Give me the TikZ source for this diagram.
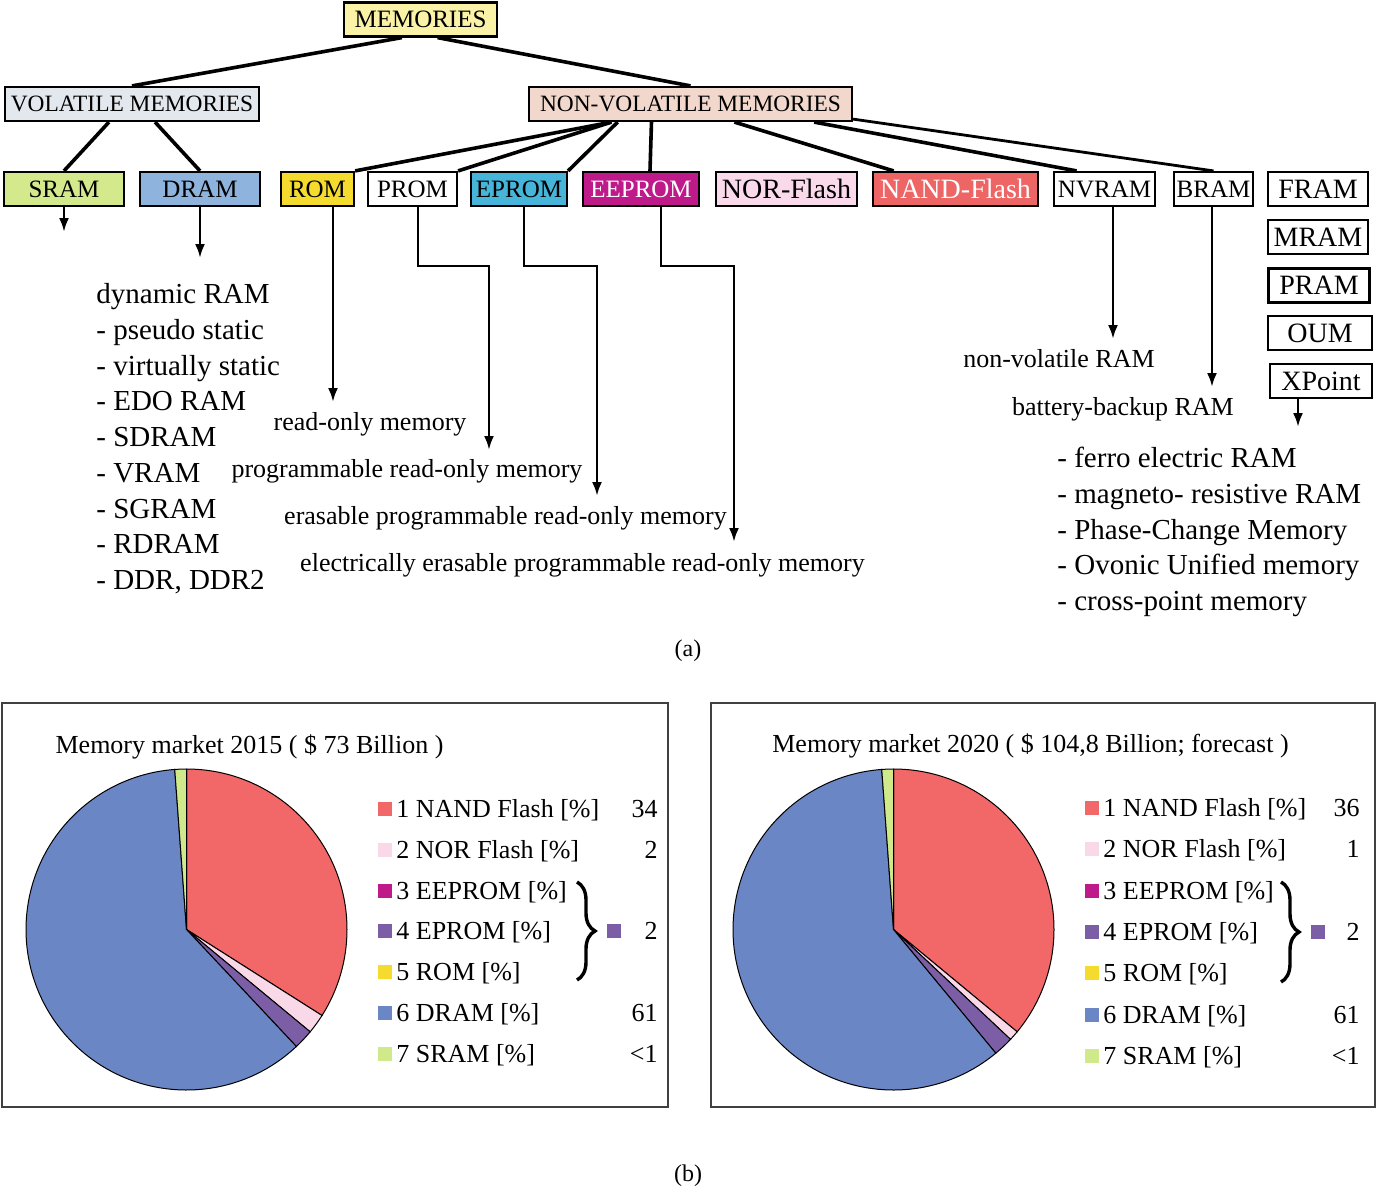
\documentclass[tikz,border=0pt]{standalone}
\usepackage{fontspec}
\setmainfont{Liberation Serif}
\usepackage{xcolor}
\usepackage{tikz}
\usetikzlibrary{calc,arrows.meta,decorations.pathreplacing}

\definecolor{memyellow}{HTML}{F9F2A7}
\definecolor{volgrey}{HTML}{E3E8EE}
\definecolor{nvpeach}{HTML}{F2D8CC}
\definecolor{sramgreen}{HTML}{D3E98C}
\definecolor{dramblue}{HTML}{8EB3DD}
\definecolor{romyellow}{HTML}{F5DB2E}
\definecolor{epromcyan}{HTML}{47B5DA}
\definecolor{eeprommag}{HTML}{BE1A8A}
\definecolor{norpink}{HTML}{F9D9EA}
\definecolor{nandred}{HTML}{EE6565}
\definecolor{pienand}{HTML}{F26767}
\definecolor{pienor}{HTML}{F9D9E8}
\definecolor{pieeprom}{HTML}{7B5EA5}
\definecolor{piedram}{HTML}{6B86C5}
\definecolor{piesram}{HTML}{D0E98A}

\newcommand\memfont{\fontsize{12.5}{14}\selectfont}
\newcommand\longfont{\fontsize{11.7}{14}\selectfont}
\newcommand\bigmemfont{\fontsize{14}{16}\selectfont}
\newcommand\descfont{\fontsize{13}{15}\selectfont}
\newcommand\listfont{\fontsize{14.5}{17}\selectfont}
\newcommand\legfont{\fontsize{13}{15}\selectfont}
\newcommand\captfont{\fontsize{12}{14}\selectfont}

\begin{document}
\begin{tikzpicture}[x=0.5pt,y=-0.5pt,
    membox/.style={draw,line width=1.1pt,minimum height=17pt,inner sep=1pt,font=\memfont},
    tree/.style={line width=1.8pt},
    arr/.style={line width=1.3pt,-{Latex[length=7pt,width=5pt]}},
    desc/.style={font=\descfont,inner sep=0pt},
    listitem/.style={font=\listfont,inner sep=0pt,anchor=west,text height=1.6ex,text depth=.4ex},
    leg/.style={font=\legfont,inner sep=0pt,anchor=west,text height=1.6ex,text depth=.4ex},
    legsq/.style={minimum size=7pt,inner sep=0pt},
    slice/.style={draw=black,line width=0.5pt},
    panel/.style={draw=black!75,line width=0.7pt},
    grpbrace/.style={decorate,decoration={brace,amplitude=9pt},line width=1.7pt}]

\useasboundingbox (0,0) rectangle (1382,1195);

% (a) classification
\node[membox,fill=memyellow,minimum width=76.5pt] (memories) at (420.5,19.5) {MEMORIES};
\node[membox,fill=volgrey,minimum width=127pt,font=\longfont] (volatile) at (132,104) {VOLATILE MEMORIES};
\node[membox,fill=nvpeach,minimum width=161.5pt,font=\longfont] (nonvolatile) at (690.5,104) {NON-VOLATILE MEMORIES};

\node[membox,fill=sramgreen,minimum width=60pt] (sram) at (64,189) {SRAM};
\node[membox,fill=dramblue,minimum width=60pt] (dram) at (200,189) {DRAM};
\node[membox,fill=romyellow,minimum width=36.5pt] (rom) at (317.5,189) {ROM};
\node[membox,fill=white,minimum width=44.5pt] (prom) at (412.5,189) {PROM};
\node[membox,fill=epromcyan,minimum width=48pt] (eprom) at (519,189) {EPROM};
\node[membox,fill=eeprommag,text=white,minimum width=58pt] (eeprom) at (641,189) {EEPROM};
\node[membox,fill=norpink,minimum width=70.5pt,font=\bigmemfont] (norflash) at (786.5,189) {NOR-Flash};
\node[membox,fill=nandred,text=white,minimum width=82.5pt,font=\bigmemfont] (nandflash) at (955.5,189) {NAND-Flash};
\node[membox,fill=white,minimum width=50.5pt] (nvram) at (1104.5,189) {NVRAM};
\node[membox,fill=white,minimum width=39.5pt] (bram) at (1213.5,189) {BRAM};
\node[membox,minimum width=50pt,font=\bigmemfont] (fram) at (1318,189) {FRAM};
\node[membox,minimum width=50pt,font=\bigmemfont] (mram) at (1318,237) {MRAM};
\node[membox,minimum width=50.5pt,font=\bigmemfont] (pram) at (1319,285.5) {PRAM};
\node[membox,minimum width=52pt,font=\bigmemfont] (oum) at (1320,333) {OUM};
\node[membox,minimum width=51pt,font=\bigmemfont] (xpoint) at (1321,381) {XPoint};

\draw[tree] ($(memories.south west)!0.38!(memories.south east)$) -- (volatile.north);
\draw[tree] ($(memories.south west)!0.61!(memories.south east)$) -- (nonvolatile.north);
\draw[tree] ($(volatile.south west)!0.41!(volatile.south east)$) -- (sram.north);
\draw[tree] ($(volatile.south west)!0.59!(volatile.south east)$) -- (dram.north);
\draw[tree] ($(nonvolatile.south west)!0.257!(nonvolatile.south east)$) -- (rom.north east);
\draw[tree] ($(nonvolatile.south west)!0.257!(nonvolatile.south east)$) -- (prom.north east);
\draw[tree] ($(nonvolatile.south west)!0.276!(nonvolatile.south east)$) -- (eprom.north east);
\draw[tree] ($(nonvolatile.south west)!0.38!(nonvolatile.south east)$) -- ([xshift=4.5pt]eeprom.north);
\draw[tree] ($(nonvolatile.south west)!0.635!(nonvolatile.south east)$) -- ($(nandflash.north west)!0.13!(nandflash.north east)$);
\draw[tree] ($(nonvolatile.south west)!0.88!(nonvolatile.south east)$) -- ($(nvram.north west)!0.23!(nvram.north east)$);
\draw[tree,line width=1.4pt] ([yshift=1.5pt]nonvolatile.south east) -- (bram.north);

\coordinate (sramend) at (64,232);
\coordinate (dramend) at (200,258);
\coordinate (romend) at (333,402);
\coordinate (promkink) at (418,266);
\coordinate (promend) at (489,450);
\coordinate (epromkink) at (524,266);
\coordinate (epromend) at (597,496);
\coordinate (eepromkink) at (661,266);
\coordinate (eepromend) at (734,542);
\coordinate (nvramend) at (1113,339);
\coordinate (bramend) at (1212,387);
\coordinate (xpointend) at (1298,427);

\draw[arr] (sram.south) -- (sramend);
\draw[arr] (dram.south) -- (dramend);
\draw[arr] (rom.south -| romend) -- (romend);
\draw[arr] (prom.south -| promkink) -- (promkink) -| (promend);
\draw[arr] (eprom.south -| epromkink) -- (epromkink) -| (epromend);
\draw[arr] (eeprom.south -| eepromkink) -- (eepromkink) -| (eepromend);
\draw[arr] (nvram.south -| nvramend) -- (nvramend);
\draw[arr] (bram.south -| bramend) -- (bramend);
\draw[arr] (xpoint.south -| xpointend) -- (xpointend);

\node[desc] (romtxt) at (370,424) {read-only memory};
\node[desc] (promtxt) at (407,471) {programmable read-only memory};
\node[desc] (epromtxt) at (505.5,518) {erasable programmable read-only memory};
\node[desc] (eepromtxt) at (582.5,565) {electrically erasable programmable read-only memory};
\node[desc] (nvramtxt) at (1059,359) {non-volatile RAM};
\node[desc] (bramtxt) at (1123,409) {battery-backup RAM};

\foreach \t [count=\i from 0] in {dynamic RAM, - pseudo static, - virtually static, - EDO RAM, - SDRAM, - VRAM, - SGRAM, - RDRAM, {- DDR, DDR2}}
  \node[listitem] (dramlist\i) at (96,298+35.75*\i) {\t};

\foreach \t [count=\i from 0] in {- ferro electric RAM, - magneto- resistive RAM, - Phase-Change Memory, - Ovonic Unified memory, - cross-point memory}
  \node[listitem] (xplist\i) at (1057,462+35.75*\i) {\t};

\node[font=\captfont] (capa) at (688,651) {(a)};

% (b) market
\draw[panel] (2,703) rectangle (668,1107);
\draw[panel] (711,703) rectangle (1375,1107);

\node[leg,anchor=center] (title15) at (249.5,748) {Memory market 2015 ( \$ 73 Billion )};
\node[leg,anchor=center] (title20) at (1030.5,747) {Memory market 2020 ( \$ 104,8 Billion; forecast )};

\begin{scope}[shift={(186.5,929.5)},x=1pt,y=1pt]
  \foreach \a/\b/\c in {90/-32.4/pienand, -32.4/-39.6/pienor, -39.6/-46.8/pieeprom, -46.8/-265.8/piedram, -265.8/-270/piesram}
    \filldraw[slice,fill=\c] (0,0) -- (\a:80.25pt) arc[start angle=\a,end angle=\b,radius=80.25pt] -- cycle;
\end{scope}

\begin{scope}[shift={(893.5,929.5)},x=1pt,y=1pt]
  \foreach \a/\b/\c in {90/-39.6/pienand, -39.6/-43.2/pienor, -43.2/-50.4/pieeprom, -50.4/-265.8/piedram, -265.8/-270/piesram}
    \filldraw[slice,fill=\c] (0,0) -- (\a:80.25pt) arc[start angle=\a,end angle=\b,radius=80.25pt] -- cycle;
\end{scope}

\foreach \lab/\c [count=\i from 0] in {{1 NAND Flash [\%]}/pienand, {2 NOR Flash [\%]}/pienor, {3 EEPROM [\%]}/eeprommag, {4 EPROM [\%]}/pieeprom, {5 ROM [\%]}/romyellow, {6 DRAM [\%]}/piedram, {7 SRAM [\%]}/piesram}{
  \node[legsq,fill=\c] (sqa\i) at (385,809+40.8*\i) {};
  \node[leg] (laba\i) at (396,812+40.8*\i) {\lab};
  \node[legsq,fill=\c] (sqb\i) at (1092,808+41.3*\i) {};
  \node[leg] (labb\i) at (1103,811+41.3*\i) {\lab};
}

\node[leg,anchor=east] (vala0) at (658,812) {34};
\node[leg,anchor=east] (vala1) at (658,853) {2};
\node[leg,anchor=east] (vala3) at (658,934) {2};
\node[leg,anchor=east] (vala5) at (658,1016) {61};
\node[leg,anchor=east] (vala6) at (658,1057) {<1};
\draw[grpbrace] (577,882) -- (577,980);
\node[legsq,fill=pieeprom] (grpa) at (614,931) {};

\node[leg,anchor=east] (valb0) at (1360,811) {36};
\node[leg,anchor=east] (valb1) at (1360,852) {1};
\node[leg,anchor=east] (valb3) at (1360,935) {2};
\node[leg,anchor=east] (valb5) at (1360,1018) {61};
\node[leg,anchor=east] (valb6) at (1360,1059) {<1};
\draw[grpbrace] (1281,882) -- (1281,982);
\node[legsq,fill=pieeprom] (grpb) at (1318,932) {};

\node[font=\captfont] (capb) at (688,1176) {(b)};
\end{tikzpicture}
\end{document}
